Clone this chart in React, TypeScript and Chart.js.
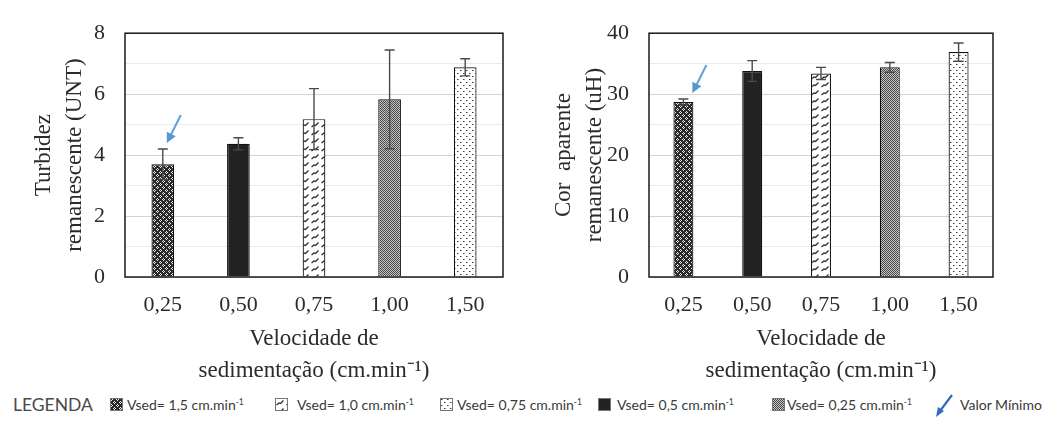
import React, { useEffect, useRef } from "react";
import { Chart, registerables } from "chart.js";

Chart.register(...registerables);

// Settling velocities (x categories)
const categories = ["0,25", "0,50", "0,75", "1,00", "1,50"];

// Remaining turbidity (UNT) and its standard deviation
const turbidez = [3.7, 4.37, 5.18, 5.83, 6.88];
const turbidezErr = [0.5, 0.2, 1.0, 1.62, 0.28];

// Remaining apparent colour (uH) and its standard deviation
const cor = [28.7, 33.8, 33.4, 34.4, 36.9];
const corErr = [0.5, 1.7, 1.0, 0.8, 1.5];

// Axis ranges / tick steps
const turbidezTicks = { max: 8, step: 1, labelEvery: 2 };
const corTicks = { max: 40, step: 5, labelEvery: 10 };

// Fill styles of each bar (same order as categories)
const barFills = ["diamond", "solid", "wave", "gray", "dots"];

// Shared legend
const legendLabels = [
  "Vsed= 1,5 cm.min",
  "Vsed= 1,0 cm.min",
  "Vsed= 0,75 cm.min",
  "Vsed= 0,5 cm.min",
  "Vsed= 0,25 cm.min",
];
const legendFills = ["diamond", "wave", "dots", "solid", "gray"];

const SERIF = "'Liberation Serif', 'Times New Roman', serif";
const TEXT = "#2b2b2b";

function makeTile(kind: string): HTMLCanvasElement {
  const c = document.createElement("canvas");
  const g = c.getContext("2d")!;
  if (kind === "diamond") {
    c.width = 6;
    c.height = 6;
    g.fillStyle = "#2a2a2a";
    g.fillRect(0, 0, 6, 6);
    g.fillStyle = "#eeeeee";
    const pts = [
      [1, 0], [0, 1], [2, 1], [1, 2],
      [4, 3], [3, 4], [5, 4], [4, 5],
    ];
    pts.forEach(([x, y]) => g.fillRect(x, y, 1, 1));
  } else if (kind === "solid") {
    c.width = 2;
    c.height = 2;
    g.fillStyle = "#222222";
    g.fillRect(0, 0, 2, 2);
  } else if (kind === "gray") {
    c.width = 2;
    c.height = 2;
    g.fillStyle = "#c4c4c4";
    g.fillRect(0, 0, 2, 2);
    g.fillStyle = "#4a4a4a";
    g.fillRect(0, 0, 1, 1);
    g.fillRect(1, 1, 1, 1);
  } else if (kind === "dots") {
    c.width = 6;
    c.height = 6;
    g.fillStyle = "#ffffff";
    g.fillRect(0, 0, 6, 6);
    g.fillStyle = "#3a3a3a";
    g.fillRect(1, 1, 1, 1);
    g.fillRect(4, 4, 1, 1);
    g.fillStyle = "#9a9a9a";
    g.fillRect(2, 1, 1, 1);
    g.fillRect(5, 4, 1, 1);
  } else {
    // short hooked diagonal strokes
    c.width = 10;
    c.height = 8;
    g.fillStyle = "#ffffff";
    g.fillRect(0, 0, 10, 8);
    g.strokeStyle = "#262626";
    g.lineWidth = 1.2;
    g.beginPath();
    g.moveTo(1.5, 7);
    g.lineTo(4, 5);
    g.lineTo(5.5, 5.5);
    g.lineTo(8.5, 2.5);
    g.stroke();
  }
  return c;
}

function makePattern(kind: string): CanvasPattern | string {
  const tile = makeTile(kind);
  const ctx = tile.getContext("2d")!;
  return ctx.createPattern(tile, "repeat") || "#888";
}

const framePlugin = {
  id: "frame",
  afterDatasetsDraw(chart: any) {
    const { ctx, chartArea: a } = chart;
    ctx.save();
    ctx.strokeStyle = "#1a1a1a";
    ctx.lineWidth = 1.5;
    ctx.strokeRect(a.left, a.top, a.right - a.left, a.bottom - a.top);
    ctx.restore();
  },
};

function errorBarPlugin(errors: number[]) {
  return {
    id: "errorBars",
    afterDatasetsDraw(chart: any) {
      const meta = chart.getDatasetMeta(0);
      const ys = chart.scales.y;
      const data = chart.data.datasets[0].data as number[];
      const ctx = chart.ctx;
      ctx.save();
      ctx.strokeStyle = "#4a4a4a";
      ctx.lineWidth = 1.4;
      meta.data.forEach((bar: any, i: number) => {
        const x = bar.x;
        const hi = ys.getPixelForValue(data[i] + errors[i]);
        const lo = ys.getPixelForValue(data[i] - errors[i]);
        ctx.beginPath();
        ctx.moveTo(x, hi);
        ctx.lineTo(x, lo);
        ctx.moveTo(x - 5, hi);
        ctx.lineTo(x + 5, hi);
        ctx.moveTo(x - 5, lo);
        ctx.lineTo(x + 5, lo);
        ctx.stroke();
      });
      ctx.restore();
    },
  };
}

// Blue arrow marking the lowest bar
function minArrowPlugin(errors: number[], dx: number) {
  return {
    id: "minArrow",
    afterDraw(chart: any) {
      const data = chart.data.datasets[0].data as number[];
      let k = 0;
      data.forEach((v, i) => {
        if (v < data[k]) k = i;
      });
      const bar = chart.getDatasetMeta(0).data[k];
      const ys = chart.scales.y;
      const tipX = bar.x + dx;
      const tipY = ys.getPixelForValue(data[k] + errors[k]) - 6;
      const tailX = tipX + 14;
      const tailY = tipY - 28;
      const ang = Math.atan2(tipY - tailY, tipX - tailX);
      const ctx = chart.ctx;
      ctx.save();
      ctx.strokeStyle = "#6a9fd6";
      ctx.fillStyle = "#5b95d3";
      ctx.lineWidth = 2;
      ctx.beginPath();
      ctx.moveTo(tailX, tailY);
      ctx.lineTo(tipX - 7 * Math.cos(ang), tipY - 7 * Math.sin(ang));
      ctx.stroke();
      ctx.beginPath();
      ctx.moveTo(tipX, tipY);
      ctx.lineTo(
        tipX - 10 * Math.cos(ang) + 5 * Math.sin(ang),
        tipY - 10 * Math.sin(ang) - 5 * Math.cos(ang)
      );
      ctx.lineTo(
        tipX - 10 * Math.cos(ang) - 5 * Math.sin(ang),
        tipY - 10 * Math.sin(ang) + 5 * Math.cos(ang)
      );
      ctx.closePath();
      ctx.fill();
      ctx.restore();
    },
  };
}

type PanelProps = {
  values: number[];
  errors: number[];
  ticks: { max: number; step: number; labelEvery: number };
  yTitle: string[];
  width: number;
  height: number;
  areaLeft: number;
  areaRight: number;
  barPct: number;
  arrowDx: number;
};

function Panel(p: PanelProps) {
  const ref = useRef<HTMLCanvasElement>(null);
  useEffect(() => {
    const canvas = ref.current!;
    const fills = barFills.map(makePattern);
    const chart = new Chart(canvas, {
      type: "bar",
      data: {
        labels: categories,
        datasets: [
          {
            data: p.values,
            backgroundColor: fills as any,
            borderColor: "#111111",
            borderWidth: 1.2,
            categoryPercentage: 1,
            barPercentage: p.barPct,
          },
        ],
      },
      options: {
        animation: false,
        responsive: false,
        maintainAspectRatio: false,
        layout: { padding: { top: 24, right: p.width - p.areaRight, left: 0, bottom: 0 } },
        plugins: { legend: { display: false }, tooltip: { enabled: false } },
        scales: {
          x: {
            ticks: { font: { family: SERIF, size: 22 }, color: TEXT, padding: 15 },
            grid: { display: false, drawTicks: false },
            border: { display: false },
            title: {
              display: true,
              text: ["Velocidade de", "sedimentação (cm.min⁻¹)"],
              font: { family: SERIF, size: 23, lineHeight: 1.35 },
              color: TEXT,
              padding: { top: 0, bottom: 4 },
            },
            afterFit: (s: any) => {
              s.height = p.height - 277;
            },
          },
          y: {
            min: 0,
            max: p.ticks.max,
            ticks: {
              stepSize: p.ticks.step,
              font: { family: SERIF, size: 22 },
              color: TEXT,
              padding: 20,
              callback: (v: any) => (Number(v) % p.ticks.labelEvery === 0 ? String(v) : ""),
            },
            grid: {
              drawTicks: false,
              lineWidth: 1,
              color: (c: any) =>
                c.tick && c.tick.value % p.ticks.labelEvery === 0 ? "#d4d4d4" : "#eaeaea",
            },
            border: { display: false },
            title: {
              display: true,
              text: p.yTitle,
              font: { family: SERIF, size: 23, lineHeight: 1.35 },
              color: TEXT,
              padding: { top: 28, bottom: 0 },
            },
            afterFit: (s: any) => {
              s.width = p.areaLeft;
            },
          },
        },
      },
      plugins: [framePlugin, errorBarPlugin(p.errors), minArrowPlugin(p.errors, p.arrowDx)],
    } as any);
    return () => chart.destroy();
  }, []);
  return <canvas ref={ref} width={p.width} height={p.height} style={{ display: "block" }} />;
}

function Swatch({ kind }: { kind: string }) {
  const ref = useRef<HTMLCanvasElement>(null);
  useEffect(() => {
    const c = ref.current!;
    const g = c.getContext("2d")!;
    g.fillStyle = makePattern(kind) as any;
    g.fillRect(0, 0, c.width, c.height);
    g.strokeStyle = "#777";
    g.lineWidth = 1;
    g.strokeRect(0.5, 0.5, c.width - 1, c.height - 1);
  }, []);
  return <canvas ref={ref} width={13} height={13} style={{ display: "block" }} />;
}

const legendSwatchX = [110, 275, 440, 598, 772];
const legendTextX = [127, 297, 457, 617, 787];

export default function App() {
  const legendFont = "Lato, 'Open Sans', sans-serif";
  return (
    <div
      style={{
        position: "fixed",
        left: 0,
        top: 0,
        width: 1047,
        height: 421,
        background: "#ffffff",
        overflow: "hidden",
      }}
    >
      <div style={{ position: "absolute", left: 0, top: 0 }}>
        <Panel
          values={turbidez}
          errors={turbidezErr}
          ticks={turbidezTicks}
          yTitle={["Turbidez", "remanescente (UNT)"]}
          width={520}
          height={390}
          areaLeft={125}
          areaRight={503}
          barPct={0.3}
          arrowDx={4}
        />
      </div>
      <div style={{ position: "absolute", left: 520, top: 0 }}>
        <Panel
          values={cor}
          errors={corErr}
          ticks={corTicks}
          yTitle={["Cor  aparente", "remanescente (uH)"]}
          width={527}
          height={390}
          areaLeft={129}
          areaRight={473}
          barPct={0.29}
          arrowDx={9}
        />
      </div>
      <div
        style={{
          position: "absolute",
          left: 13,
          top: 394,
          fontFamily: legendFont,
          fontSize: 17.5,
          lineHeight: "22px",
          color: "#4a4a4a",
        }}
      >
        LEGENDA
      </div>
      {legendLabels.map((t, i) => (
        <React.Fragment key={t}>
          <div style={{ position: "absolute", left: legendSwatchX[i], top: 398 }}>
            <Swatch kind={legendFills[i]} />
          </div>
          <div
            style={{
              position: "absolute",
              left: legendTextX[i],
              top: 395,
              fontFamily: legendFont,
              fontSize: 14,
              lineHeight: "19px",
              color: "#3a3a3a",
              whiteSpace: "nowrap",
            }}
          >
            {t}
            <sup style={{ fontSize: 8.5, verticalAlign: 5, lineHeight: 0 }}>-1</sup>
          </div>
        </React.Fragment>
      ))}
      <svg
        style={{ position: "absolute", left: 933, top: 393 }}
        width={22}
        height={26}
        viewBox="0 0 22 26"
      >
        <line x1={19} y1={2} x2={7} y2={18} stroke="#2f6db5" strokeWidth={2.2} />
        <polygon points="3,24 5,14 11,18" fill="#2f6db5" />
      </svg>
      <div
        style={{
          position: "absolute",
          left: 960,
          top: 395,
          fontFamily: legendFont,
          fontSize: 14,
          lineHeight: "19px",
          color: "#3a3a3a",
          whiteSpace: "nowrap",
        }}
      >
        Valor Mínimo
      </div>
    </div>
  );
}
